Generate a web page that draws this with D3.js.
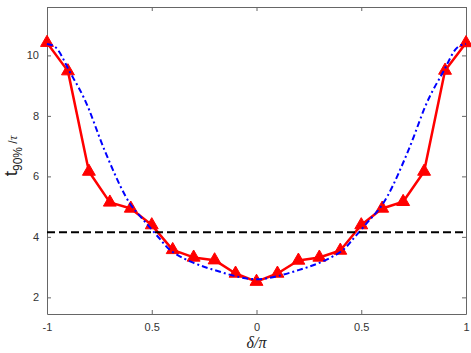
<!DOCTYPE html>
<html>
<head>
<meta charset="utf-8">
<script src="https://cdn.jsdelivr.net/npm/d3@7"></script>
<style>
  body { margin: 0; background: #fff; }
  text { font-family: "Liberation Sans", Arial, sans-serif; }
</style>
</head>
<body>
<svg id="chart" width="471" height="353"></svg>
<script>
// red triangles: measured t90% / tau
const deltaVals = [-1, -0.9, -0.8, -0.7, -0.6, -0.5, -0.4, -0.3, -0.2, -0.1, 0,
  0.1, 0.2, 0.3, 0.4, 0.5, 0.6, 0.7, 0.8, 0.9, 1]
const tVals = [10.42, 9.48, 6.16, 5.14, 4.94, 4.39, 3.57, 3.32, 3.23, 2.79, 2.52,
  2.79, 3.22, 3.32, 3.55, 4.39, 4.94, 5.16, 6.16, 9.5, 10.41]

// blue dash-dot curve
const curveX = [-1, -0.95, -0.9, -0.85, -0.8, -0.75, -0.7, -0.65, -0.6, -0.55, -0.5, -0.45, -0.4, -0.3, -0.2, -0.1, 0,
  0.1, 0.2, 0.3, 0.4, 0.45, 0.5, 0.55, 0.6, 0.65, 0.7, 0.75, 0.8, 0.85, 0.9, 0.95, 1]
const curveY = [10.38, 10.2, 9.57, 8.95, 8.22, 7.3, 6.45, 5.68, 5.06, 4.64, 4.24, 3.84, 3.5, 3.14, 2.9, 2.7, 2.6,
  2.7, 2.9, 3.14, 3.5, 3.84, 4.24, 4.64, 5.06, 5.68, 6.45, 7.3, 8.22, 8.95, 9.57, 10.2, 10.38]

const threshold = 4.15

const xTicks = [-1, -0.5, 0, 0.5, 1]
const xTickLabels = ['-1', '0.5', '0', '0.5', '1']
const yTicks = [2, 4, 6, 8, 10]

var svg = d3.select('#chart')
var m = { left: 47, right: 466, top: 7, bottom: 314 }

var x = d3.scaleLinear().domain([-1, 1]).range([m.left, m.right])
var y = d3.scaleLinear().domain([1.45, 11.6]).range([m.bottom, m.top])

var axisColor = '#666'
var tickLen = 4

// axes (box with inward ticks on all sides)
var bottomAxis = d3.axisBottom(x).tickValues(xTicks).tickSizeInner(-tickLen).tickSizeOuter(0)
  .tickPadding(9).tickFormat((d, i) => xTickLabels[i])
var topAxis = d3.axisTop(x).tickValues(xTicks).tickSizeInner(-tickLen).tickSizeOuter(0).tickFormat('')
var leftAxis = d3.axisLeft(y).tickValues(yTicks).tickSizeInner(-tickLen).tickSizeOuter(0).tickPadding(8)
var rightAxis = d3.axisRight(y).tickValues(yTicks).tickSizeInner(-tickLen).tickSizeOuter(0).tickFormat('')

function styleAxis(g) {
  g.select('.domain').attr('stroke', axisColor)
  g.selectAll('.tick line').attr('stroke', axisColor)
  g.selectAll('.tick text').attr('fill', '#333').style('font-size', '11px')
}

svg.append('g').attr('transform', `translate(0,${m.bottom})`).call(bottomAxis).call(styleAxis)
svg.append('g').attr('transform', `translate(0,${m.top})`).call(topAxis).call(styleAxis)
svg.append('g').attr('transform', `translate(${m.left},0)`).call(leftAxis).call(styleAxis)
svg.append('g').attr('transform', `translate(${m.right},0)`).call(rightAxis).call(styleAxis)

// red measured line + triangles
var pts = deltaVals.map((d, i) => [d, tVals[i]])
var line = d3.line().x(d => x(d[0])).y(d => y(d[1]))

svg.append('path').datum(pts)
  .attr('d', line)
  .attr('fill', 'none')
  .attr('stroke', '#ff0000')
  .attr('stroke-width', 2.5)
  .attr('stroke-linejoin', 'round')

var tri = d3.symbol().type(d3.symbolTriangle).size(72)
svg.append('g').selectAll('path').data(pts).join('path')
  .attr('d', tri)
  .attr('transform', d => `translate(${x(d[0])},${y(d[1])})`)
  .attr('fill', '#ff0000')
  .attr('stroke', '#ff0000')
  .attr('stroke-width', 1)

// blue dash-dot fit
var fit = curveX.map((d, i) => [d, curveY[i]])
svg.append('path').datum(fit)
  .attr('d', d3.line().x(d => x(d[0])).y(d => y(d[1])).curve(d3.curveNatural))
  .attr('fill', 'none')
  .attr('stroke', '#0000ff')
  .attr('stroke-width', 2)
  .attr('stroke-dasharray', '6,3,2,3')

// threshold line
svg.append('line')
  .attr('x1', x(-1)).attr('x2', x(1))
  .attr('y1', y(threshold)).attr('y2', y(threshold))
  .attr('stroke', '#000')
  .attr('stroke-width', 2)
  .attr('stroke-dasharray', '8,4')

// labels
svg.append('text')
  .attr('x', x(0)).attr('y', 348)
  .attr('text-anchor', 'middle')
  .style('font-family', '"Liberation Serif", "Times New Roman", serif')
  .style('font-size', '16px')
  .style('font-style', 'italic')
  .attr('fill', '#222')
  .text('δ/π')

var ylab = svg.append('text')
  .attr('transform', 'translate(17,156) rotate(-90)')
  .attr('text-anchor', 'middle')
  .attr('fill', '#222')
ylab.append('tspan').style('font-size', '19px').text('t')
ylab.append('tspan').style('font-size', '12px').attr('dy', 5).text('90%')
ylab.append('tspan').style('font-size', '12px').attr('dy', -5).text(' /')
ylab.append('tspan').style('font-size', '13px')
  .style('font-family', '"Liberation Serif", serif').style('font-style', 'italic').text('τ')
</script>
</body>
</html>
